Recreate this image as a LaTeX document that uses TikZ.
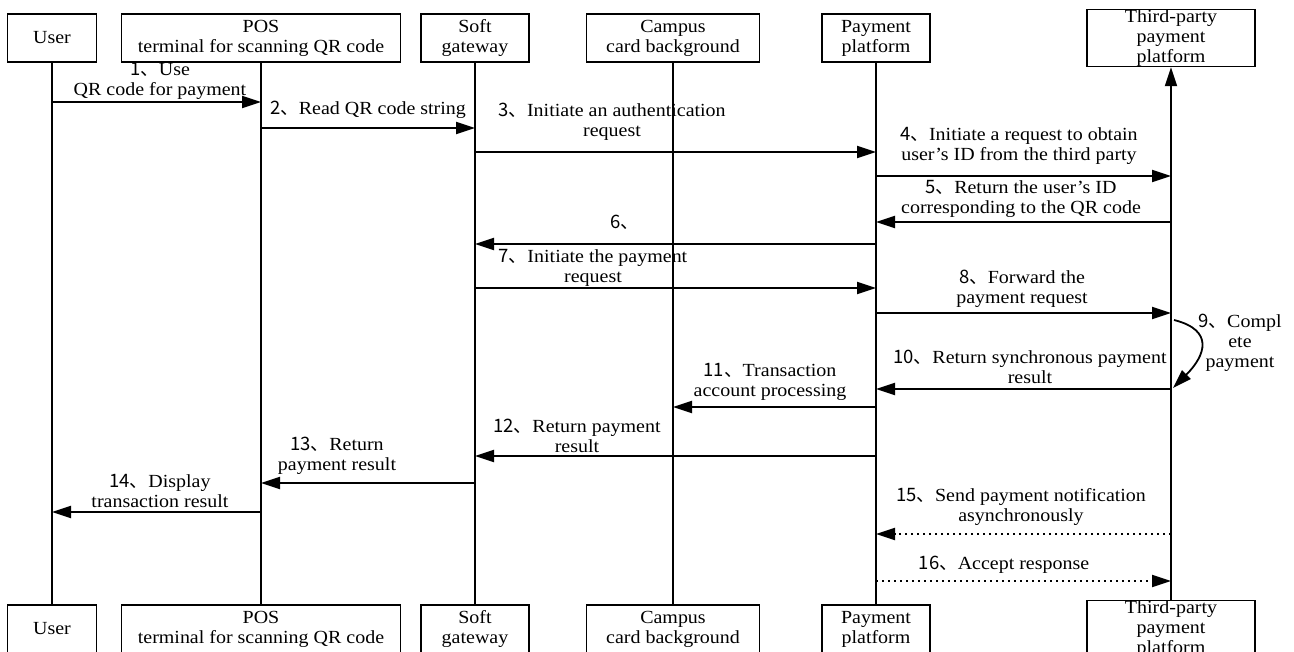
\documentclass[tikz,border=0pt]{standalone}
\usepackage{fontspec}
\setmainfont{Liberation Serif}[FakeStretch=1.08]
\newfontfamily\cjk{Noto Sans CJK SC}
\usetikzlibrary{arrows.meta}
\newcommand\lbl{\fontsize{18.5}{20}\selectfont}
\newcommand\msgno[1]{{\cjk #1、}}
\tikzset{
    actor/.style={draw, line width=1.7pt, inner sep=0pt, minimum height=48pt, align=center, font=\lbl},
    life/.style={line width=2pt},
    msg/.style={line width=1.8pt, -{Triangle[length=19pt,width=12pt]}},
    amsg/.style={msg, dash pattern=on 2pt off 4pt},
    lab/.style={align=center, inner sep=0pt, font=\lbl}
}

\begin{document}
\begin{tikzpicture}[x=1pt, y=-1pt]
    \useasboundingbox (0,0) rectangle (1294,652);

    \node[actor, minimum width=89pt] (user) at (52,38) {User};
    \node[actor, minimum width=279pt] (pos) at (261,38) {POS\\terminal for scanning QR code};
    \node[actor, minimum width=108pt] (soft) at (475,38) {Soft\\gateway};
    \node[actor, minimum width=173pt] (campus) at (673,38) {Campus\\card background};
    \node[actor, minimum width=108pt] (pay) at (876,38) {Payment\\platform};
    \node[actor, minimum width=168pt] (third) at (1171,38) {Third-party\\payment\\platform};

    \node[actor, minimum width=89pt] (user2) at (52,629) {User};
    \node[actor, minimum width=279pt] (pos2) at (261,629) {POS\\terminal for scanning QR code};
    \node[actor, minimum width=108pt] (soft2) at (475,629) {Soft\\gateway};
    \node[actor, minimum width=173pt] (campus2) at (673,629) {Campus\\card background};
    \node[actor, minimum width=108pt] (pay2) at (876,629) {Payment\\platform};
    \node[actor, minimum width=168pt] (third2) at (1171,629) {Third-party\\payment\\platform};

    \draw[life] (user.south) -- (user2.north);
    \draw[life] (pos.south) -- (pos2.north);
    \draw[life] (soft.south) -- (soft2.north);
    \draw[life] (campus.south) -- (campus2.north);
    \draw[life] (pay.south) -- (pay2.north);
    \draw[life, -{Triangle[length=19pt,width=12pt]}] (third2.north) -- (third.south);

    \draw[msg] (user |- 0,102) -- (pos |- 0,102);
    \draw[msg] (pos |- 0,128) -- (soft |- 0,128);
    \draw[msg] (soft |- 0,152) -- (pay |- 0,152);
    \draw[msg] (pay |- 0,176) -- (third |- 0,176);
    \draw[msg] (third |- 0,222) -- (pay |- 0,222);
    \draw[msg] (pay |- 0,244) -- (soft |- 0,244);
    \draw[msg] (soft |- 0,288) -- (pay |- 0,288);
    \draw[msg] (pay |- 0,313) -- (third |- 0,313);
    \coordinate (s9) at ([xshift=3pt]third |- 0,320);
    \coordinate (e9) at ([xshift=2pt]third |- 0,388);
    \draw[msg] (s9) .. controls +(40,10) and +(33,-33) .. (e9);
    \draw[msg] (third |- 0,389) -- (pay |- 0,389);
    \draw[msg] (pay |- 0,407) -- (campus |- 0,407);
    \draw[msg] (pay |- 0,456) -- (soft |- 0,456);
    \draw[msg] (soft |- 0,483) -- (pos |- 0,483);
    \draw[msg] (pos |- 0,512) -- (user |- 0,512);
    \draw[amsg] (third |- 0,534) -- (pay |- 0,534);
    \draw[amsg] (pay |- 0,581) -- (third |- 0,581);

    \node[lab] (m1) at (160,81) {\msgno{1}Use\\QR code for payment};
    \node[lab] (m2) at (368,110) {\msgno{2}Read QR code string};
    \node[lab] (m3) at (612,122) {\msgno{3}Initiate an authentication\\request};
    \node[lab] (m4) at (1019,146) {\msgno{4}Initiate a request to obtain\\user’s ID from the third party};
    \node[lab] (m5) at (1021,199) {\msgno{5}Return the user’s ID\\corresponding to the QR code};
    \node[lab] (m6) at (625,222) {\msgno{6}};
    \node[lab] (m7) at (593,268) {\msgno{7}Initiate the payment\\request};
    \node[lab] (m8) at (1022,289) {\msgno{8}Forward the\\payment request};
    \node[lab] (m9) at (1240,343) {\msgno{9}Compl\\ete\\payment};
    \node[lab] (m10) at (1030,367) {\msgno{10}Return synchronous payment\\result};
    \node[lab] (m11) at (770,382) {\msgno{11}Transaction\\account processing};
    \node[lab] (m12) at (577,436) {\msgno{12}Return payment\\result};
    \node[lab] (m13) at (337,456) {\msgno{13}Return\\payment result};
    \node[lab] (m14) at (160,491) {\msgno{14}Display\\transaction result};
    \node[lab] (m15) at (1021,507) {\msgno{15}Send payment notification\\asynchronously};
    \node[lab] (m16) at (1004,565) {\msgno{16}Accept response};
\end{tikzpicture}
\end{document}
